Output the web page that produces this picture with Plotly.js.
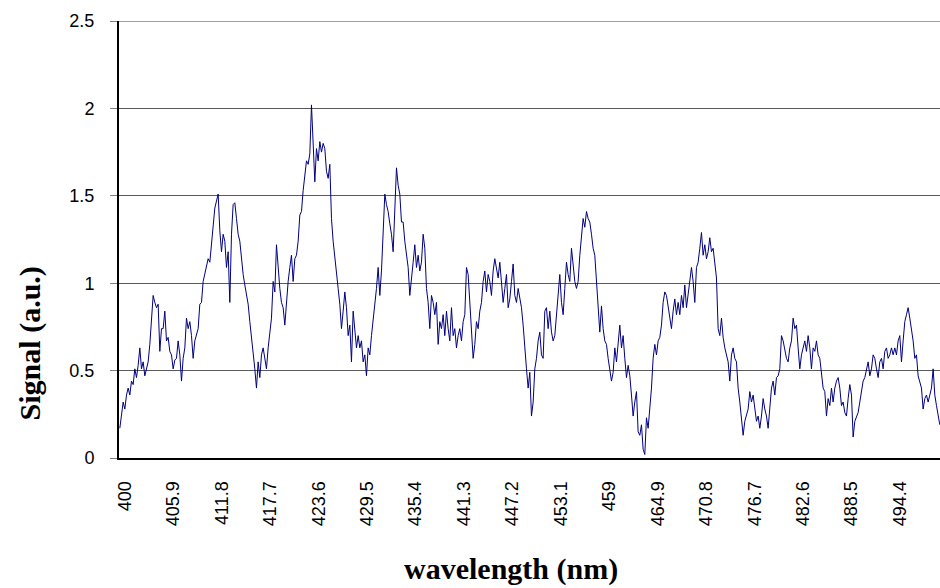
<!DOCTYPE html>
<html>
<head>
<meta charset="utf-8">
<script src="https://cdn.plot.ly/plotly-3.0.1.min.js"></script>
<style>
  html, body { margin: 0; padding: 0; background: #ffffff; }
  #chart { width: 940px; height: 588px; }
</style>
</head>
<body>
<div id="chart"></div>
<script>
// Wavelength sampling of the read-off signal (nm)
const wlStart = 400.1;
const wlStep = 0.203;

// Signal (a.u.), in four consecutive segments
const signalA = [0.17,0.25,0.32,0.28,0.36,0.40,0.36,0.44,0.42,0.51,0.46,0.53,0.63,0.51,0.55,0.47,0.51,0.55,0.65,0.82,
  0.93,0.89,0.86,0.88,0.61,0.74,0.74,0.84,0.67,0.69,0.61,0.59,0.51,0.56,0.57,0.67,0.59,0.44,0.57,0.63,
  0.80,0.74,0.78,0.70,0.57,0.67,0.70,0.74,0.88,0.89,1.01,1.05,1.09,1.14,1.12,1.22,1.35,1.43,1.47,1.51,
  1.30,1.18,1.28,1.24,1.09,1.18,0.89,1.28,1.45,1.46,1.37,1.28,1.24,1.12,1.05,0.99,0.93,0.88,0.78,0.70,
  0.61,0.51,0.40,0.55,0.46,0.59,0.63,0.57,0.51,0.63,0.74,0.80,1.01,0.95,1.22,1.09,0.97,0.89,0.86,0.76,
  0.89,1.01,1.09,1.16,1.01,1.14,1.16,1.24,1.39,1.41,1.53,1.60,1.70,1.68,1.74,2.02,1.79,1.58,1.77,1.70,
  1.81,1.75,1.80,1.77];
const signalB = [1.64,1.60,1.68,1.37,1.24,1.16,1.07,0.97,0.88,0.74,0.84,0.95,0.86,0.70,0.76,0.55,0.84,0.74,0.63,0.70,
  0.63,0.67,0.55,0.59,0.47,0.63,0.59,0.70,0.78,0.89,0.97,1.09,0.93,1.07,1.26,1.51,1.45,1.41,1.34,1.28,
  1.18,1.47,1.66,1.56,1.51,1.35,1.35,1.24,1.16,1.09,0.93,1.01,1.12,1.22,1.09,1.16,1.07,1.12,1.28,1.20,
  0.97,0.89,0.74,0.93,0.89,0.82,0.89,0.65,0.78,0.74,0.82,0.70,0.84,0.74,0.67,0.86,0.70,0.74,0.63,0.70,
  0.74,0.67,0.78,0.82,1.09,1.05,0.89,0.74,0.57,0.65,0.78,0.74,0.84,0.89,1.01,1.07,0.95,1.05,1.01,0.93,
  1.07,1.14,1.09,1.03,1.12,1.01,0.89,0.97,1.05,0.86,0.91,1.01,1.11,0.93,0.89,0.97,0.91,0.86,0.76,0.61,
  0.51,0.40,0.49];
const signalC = [0.24,0.32,0.51,0.57,0.67,0.72,0.59,0.57,0.84,0.86,0.74,0.84,0.72,0.67,0.70,0.82,0.89,1.05,0.89,0.82,
  0.97,1.12,1.05,1.01,1.20,1.09,1.01,0.97,1.01,1.16,1.28,1.37,1.32,1.41,1.37,1.35,1.28,1.20,1.16,1.03,
  0.89,0.72,0.87,0.74,0.67,0.65,0.57,0.51,0.44,0.49,0.63,0.55,0.65,0.76,0.63,0.70,0.57,0.46,0.53,0.47,
  0.36,0.24,0.32,0.38,0.15,0.13,0.19,0.05,0.02,0.23,0.17,0.28,0.40,0.57,0.65,0.59,0.67,0.69,0.76,0.89,
  0.95,0.93,0.87,0.80,0.74,0.84,0.91,0.82,0.89,0.82,0.93,0.86,0.99,0.86,0.93,0.99,1.09,1.01,0.89,1.09,
  1.12,1.20,1.29,1.16,1.22,1.14,1.18,1.26,1.18,1.20,1.12,1.03,0.74,0.70,0.80,0.69,0.63,0.59,0.55,0.44,
  0.59,0.63,0.57];
const signalD = [0.55,0.40,0.32,0.24,0.13,0.21,0.24,0.28,0.38,0.32,0.36,0.28,0.21,0.24,0.17,0.24,0.34,0.28,0.24,0.17,
  0.30,0.40,0.44,0.36,0.46,0.47,0.51,0.70,0.67,0.61,0.57,0.55,0.63,0.67,0.80,0.74,0.76,0.63,0.51,0.59,
  0.63,0.67,0.61,0.70,0.63,0.51,0.63,0.61,0.67,0.59,0.57,0.49,0.40,0.38,0.24,0.34,0.30,0.40,0.32,0.40,
  0.44,0.46,0.40,0.30,0.32,0.26,0.24,0.34,0.42,0.36,0.12,0.21,0.24,0.26,0.32,0.38,0.44,0.46,0.51,0.55,
  0.47,0.51,0.59,0.57,0.51,0.46,0.55,0.57,0.51,0.61,0.63,0.57,0.59,0.63,0.59,0.63,0.59,0.67,0.70,0.55,
  0.67,0.78,0.82,0.86,0.80,0.74,0.67,0.57,0.59,0.47,0.44,0.40,0.28,0.34,0.36,0.32,0.36,0.40,0.51,0.36,
  0.30,0.24,0.19];

// Category tick labels shown on the wavelength axis
const tickLabels = ["400","405.9","411.8","417.7","423.6","429.5","435.4","441.3","447.2",
  "453.1","459","464.9","470.8","476.7","482.6","488.5","494.4"];
const yTicks = [0, 0.5, 1, 1.5, 2, 2.5];

const signal = signalA.concat(signalB, signalC, signalD);
const wavelength = signal.map((_, i) => +(wlStart + i * wlStep).toFixed(3));

const trace = {
  x: wavelength,
  y: signal,
  type: 'scatter',
  mode: 'lines',
  line: { color: '#000080', width: 1 },
  hoverinfo: 'skip'
};

const tickFont = { family: 'Liberation Sans, Arial, sans-serif', size: 18, color: '#000000' };
const titleFont = { family: 'Liberation Serif, Times New Roman, serif', size: 30, color: '#000000' };

const layout = {
  width: 940,
  height: 588,
  margin: { l: 119, r: 0, t: 21, b: 130, pad: 0 },
  paper_bgcolor: '#ffffff',
  plot_bgcolor: '#ffffff',
  showlegend: false,
  xaxis: {
    type: 'linear',
    range: [400, 500],
    tickmode: 'array',
    tickvals: tickLabels.map(Number),
    ticktext: tickLabels,
    tickangle: -90,
    tickfont: tickFont,
    ticks: '',
    ticklabelstandoff: 14,
    ticklabelshift: 6,
    showgrid: false,
    zeroline: false,
    showline: true,
    linecolor: '#000000',
    linewidth: 2
  },
  yaxis: {
    range: [0, 2.5],
    tickmode: 'array',
    tickvals: yTicks,
    ticktext: yTicks.map(String),
    tickfont: tickFont,
    ticks: 'outside',
    ticklen: 7,
    tickcolor: '#808080',
    tickwidth: 1,
    ticklabelstandoff: 12,
    showgrid: true,
    gridcolor: '#5a5a5a',
    gridwidth: 1,
    zeroline: false,
    showline: true,
    linecolor: '#000000',
    linewidth: 2
  },
  shapes: [
    {
      type: 'line', xref: 'paper', yref: 'y',
      x0: 0, x1: 1, y0: 2.5, y1: 2.5,
      line: { color: '#a0a0a0', width: 2 },
      layer: 'below'
    }
  ],
  annotations: [
    {
      text: '<b>Signal (a.u.)</b>',
      xref: 'paper', yref: 'paper',
      x: -0.108, y: 0.263,
      xanchor: 'center', yanchor: 'middle',
      textangle: -90,
      showarrow: false,
      font: titleFont
    },
    {
      text: '<b>wavelength (nm)</b>',
      xref: 'paper', yref: 'paper',
      x: 0.478, y: -0.253,
      xanchor: 'center', yanchor: 'middle',
      showarrow: false,
      font: titleFont
    }
  ]
};

Plotly.newPlot('chart', [trace], layout, { staticPlot: true, displayModeBar: false });
</script>
</body>
</html>
